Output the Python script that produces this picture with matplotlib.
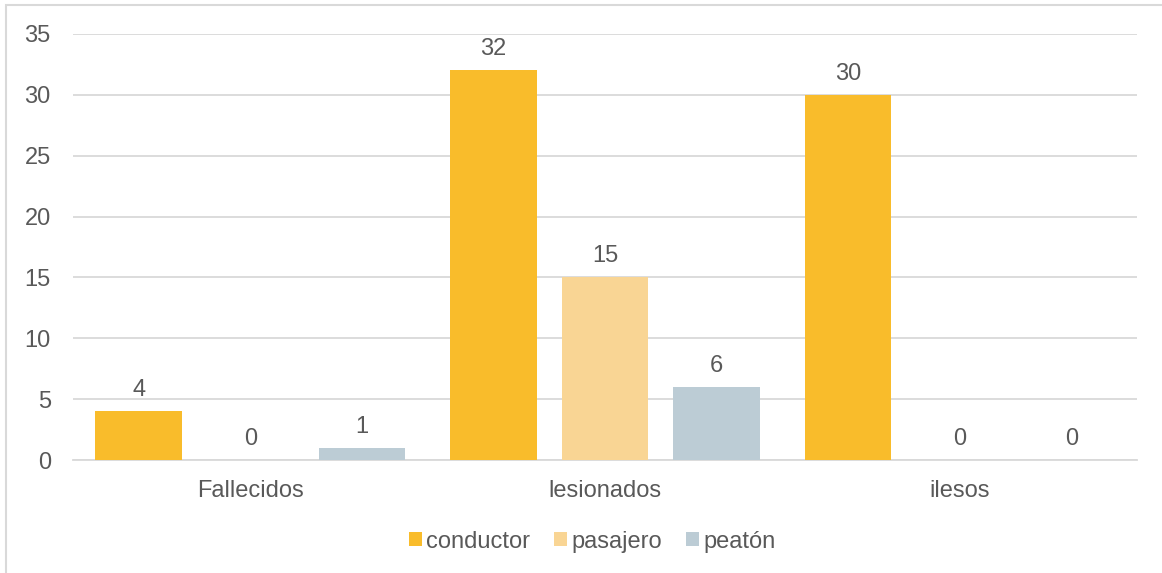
import matplotlib
matplotlib.use('Agg')
import matplotlib.pyplot as plt
import numpy as np
from matplotlib.patches import Rectangle

plt.rcParams['font.family'] = ['Liberation Sans', 'DejaVu Sans']

# ── Data ──────────────────────────────────────────────────────────────────────
categories = ['Fallecidos', 'lesionados', 'ilesos']
series_names = ['conductor', 'pasajero', 'peatón']
conductor = [4, 32, 30]
pasajero = [0, 15, 0]
peaton = [1, 6, 0]

C_COND = '#F9BC2B'
C_PAS = '#F9D594'
C_PEA = '#BCCCD5'
C_TEXT = '#595959'
C_GRID = '#D9D9D9'
FS = 17

fig = plt.figure(figsize=(11.62, 5.73), dpi=100)
ax = fig.add_axes([0.0628, 0.1972, 0.9157, 0.7435])

# outer chart frame (runs off right/bottom edges)
fig.patches.append(Rectangle((6 / 1162, -0.05), 1.2, 1 - 5 / 573 + 0.05,
                             transform=fig.transFigure, fill=False,
                             edgecolor=C_GRID, linewidth=1.5, zorder=0))

x = np.arange(len(categories))
offset = 0.315
width = 0.245
values = [conductor, pasajero, peaton]
colors = [C_COND, C_PAS, C_PEA]
for i, (name, vals, col) in enumerate(zip(series_names, values, colors)):
    pos = x + (i - 1) * offset
    ax.bar(pos, vals, width=width, color=col, label=name, zorder=3)
    for p, v in zip(pos, vals):
        ax.annotate(str(v), (p, v), xytext=(0, 11), textcoords='offset points',
                    ha='center', va='baseline', fontsize=FS, color=C_TEXT)

ax.set_xlim(-0.5, 2.5)
ax.set_ylim(0, 35)
ax.set_yticks(range(0, 36, 5))
ax.yaxis.grid(True, color=C_GRID, linewidth=1.3, zorder=0)
ax.set_axisbelow(True)
for s in ['top', 'right', 'left']:
    ax.spines[s].set_visible(False)
ax.spines['bottom'].set_color(C_GRID)
ax.spines['bottom'].set_linewidth(1.3)
ax.set_xticks(x)
ax.set_xticklabels(categories)
ax.tick_params(axis='both', length=0, labelsize=FS, labelcolor=C_TEXT)
ax.tick_params(axis='x', pad=14.5)
ax.tick_params(axis='y', pad=16)

ax.legend(loc='upper center', bbox_to_anchor=(0.488, -0.116), ncol=3,
          frameon=False, fontsize=FS, labelcolor=C_TEXT,
          handlelength=0.55, handleheight=0.55, handletextpad=0.2,
          columnspacing=1.0)

fig.savefig('out.png', dpi=100, facecolor='white')
